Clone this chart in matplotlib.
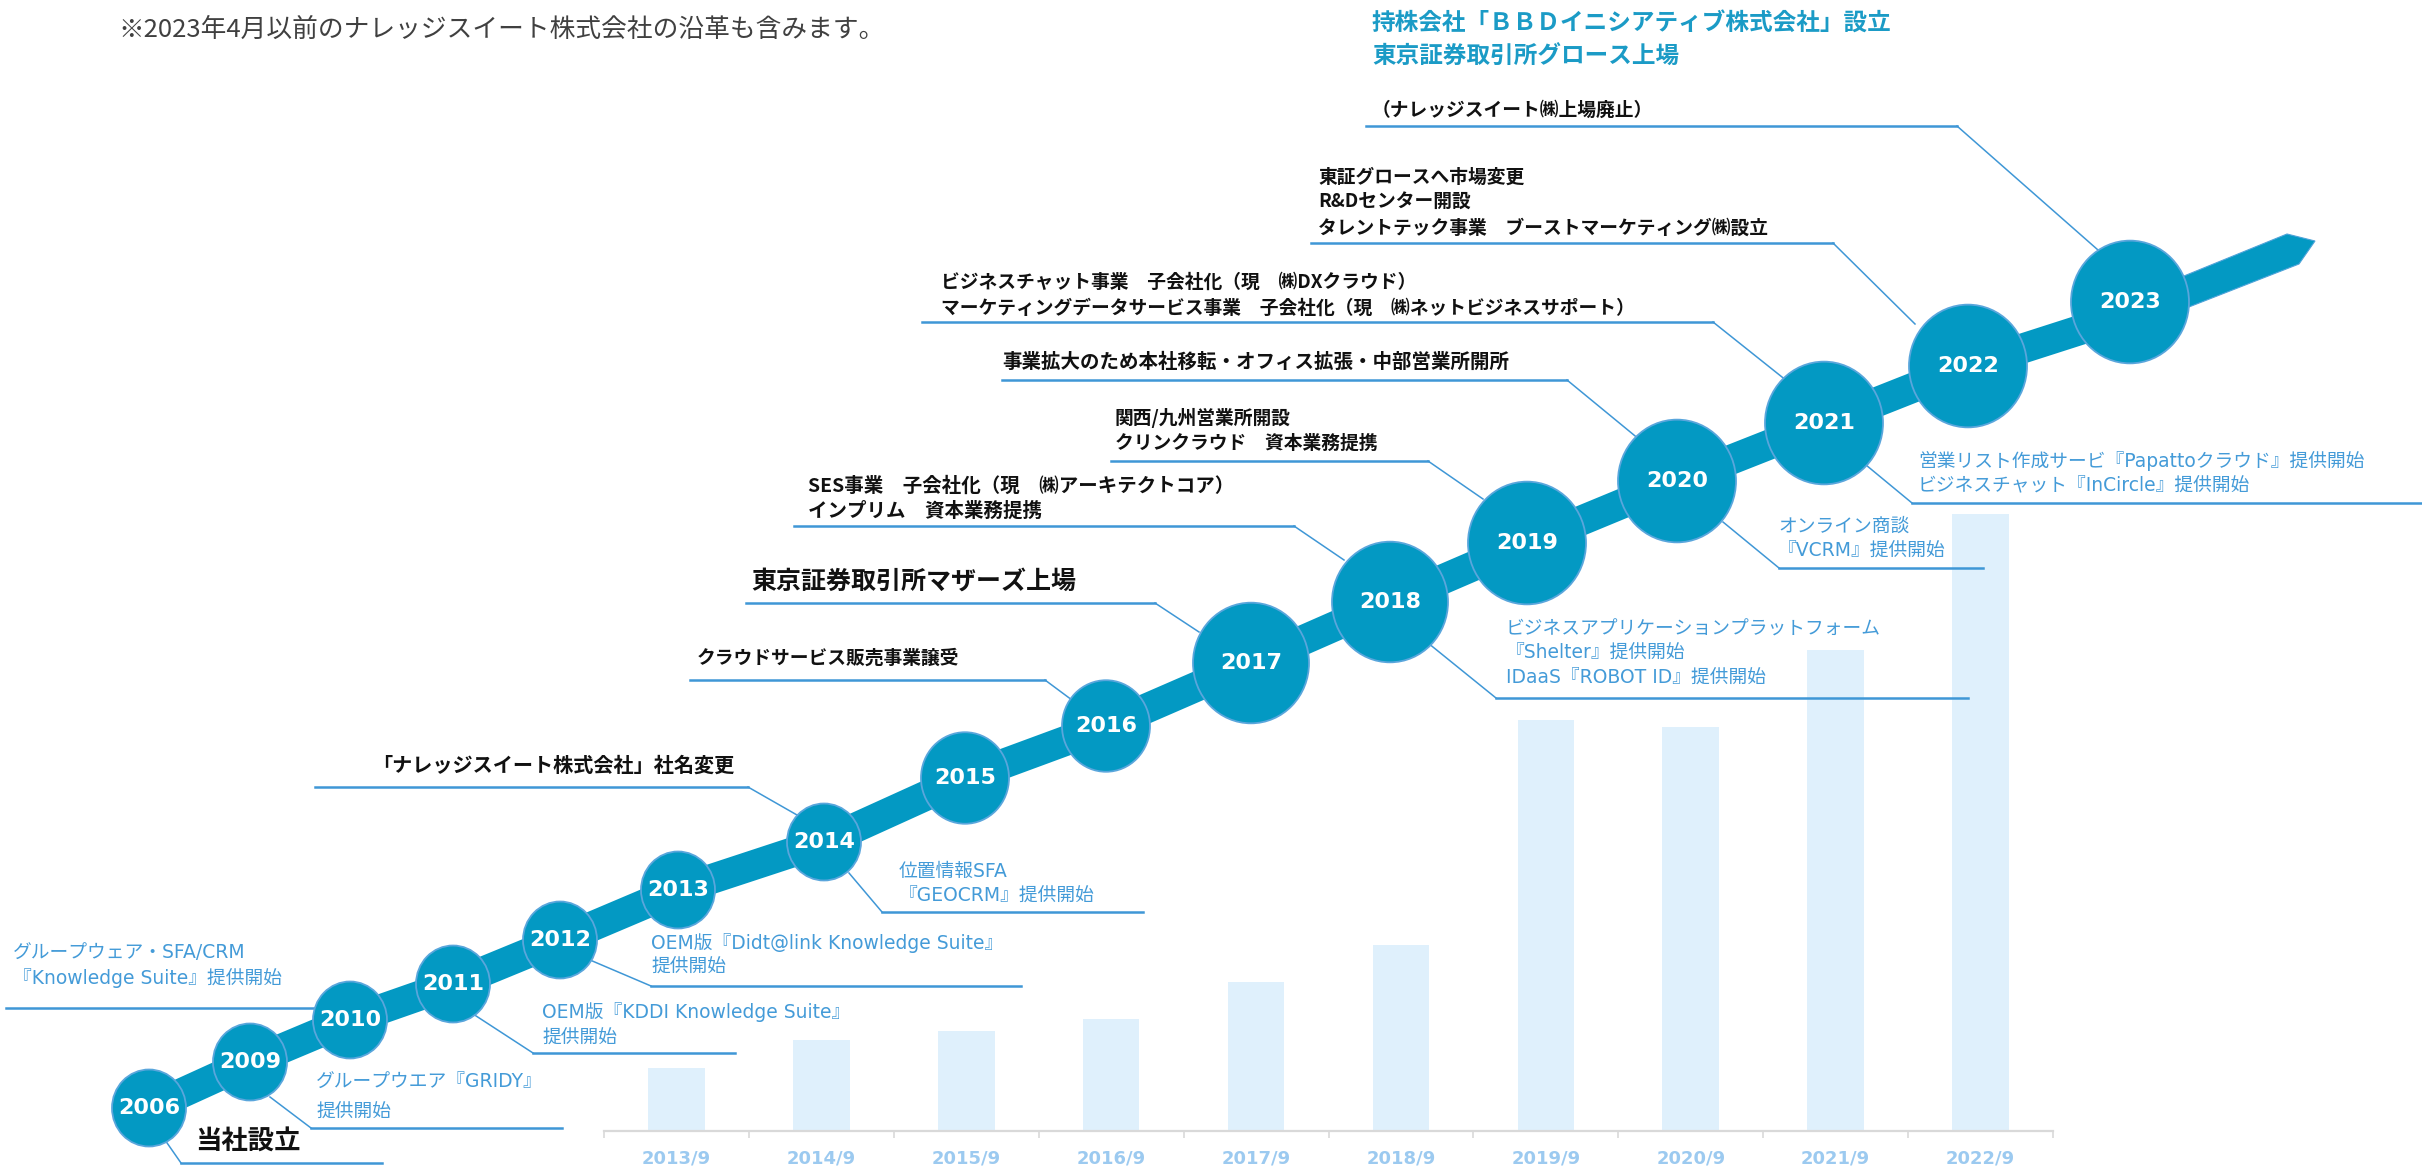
import matplotlib
matplotlib.use('Agg')
import matplotlib.pyplot as plt
from matplotlib.patches import Ellipse, Polygon

W, H = 2422, 1170
JP = ['Noto Sans CJK JP', 'DejaVu Sans']
JP_LATIN = ['DejaVu Sans', 'Noto Sans CJK JP']

TEAL = '#0399c3'
BLUE_TXT = '#449bd8'
BLUE_LINE = '#3f97d6'
BAR_C = '#dff0fc'

# ---- data ----
years = [2006, 2009, 2010, 2011, 2012, 2013, 2014, 2015, 2016,
         2017, 2018, 2019, 2020, 2021, 2022, 2023]

bar_labels = ['2013/9', '2014/9', '2015/9', '2016/9', '2017/9',
              '2018/9', '2019/9', '2020/9', '2021/9', '2022/9']
bar_values = [63, 91, 100, 112, 149, 186, 411, 404, 481, 617]

note_text = '※2023年4月以前のナレッジスイート株式会社の沿革も含みます。'
head_lines = ['持株会社「ＢＢＤイニシアティブ株式会社」設立', '東京証券取引所グロース上場']

# black, above the band
upper_events = [
    (2023, ['（ナレッジスイート㈱上場廃止）']),
    (2022, ['東証グロースへ市場変更', 'R&Dセンター開設', 'タレントテック事業　ブーストマーケティング㈱設立']),
    (2021, ['ビジネスチャット事業　子会社化（現　㈱DXクラウド）',
            'マーケティングデータサービス事業　子会社化（現　㈱ネットビジネスサポート）']),
    (2020, ['事業拡大のため本社移転・オフィス拡張・中部営業所開所']),
    (2019, ['関西/九州営業所開設', 'クリンクラウド　資本業務提携']),
    (2018, ['SES事業　子会社化（現　㈱アーキテクトコア）', 'インプリム　資本業務提携']),
    (2017, ['東京証券取引所マザーズ上場']),
    (2016, ['クラウドサービス販売事業譲受']),
    (2014, ['「ナレッジスイート株式会社」社名変更']),
    (2006, ['当社設立']),
]

# blue, below the band
lower_events = [
    (2010, ['グループウェア・SFA/CRM', '『Knowledge Suite』提供開始']),
    (2009, ['グループウエア『GRIDY』', '提供開始']),
    (2011, ['OEM版『KDDI Knowledge Suite』', '提供開始']),
    (2012, ['OEM版『Didt@link Knowledge Suite』', '提供開始']),
    (2014, ['位置情報SFA', '『GEOCRM』提供開始']),
    (2018, ['ビジネスアプリケーションプラットフォーム', '『Shelter』提供開始', 'IDaaS『ROBOT ID』提供開始']),
    (2020, ['オンライン商談', '『VCRM』提供開始']),
    (2021, ['営業リスト作成サービ『Papattoクラウド』提供開始', 'ビジネスチャット『InCircle』提供開始']),
]

# ---- layout (pixel positions) ----
node_pos = {2006: (149, 1108, 37), 2009: (250, 1062, 37), 2010: (350, 1020, 37),
            2011: (453, 984, 37), 2012: (560, 940, 37), 2013: (678, 890, 37),
            2014: (824, 842, 37), 2015: (965, 778, 44), 2016: (1106, 726, 44),
            2017: (1251, 663, 58), 2018: (1390, 602, 58), 2019: (1527, 543, 59),
            2020: (1677, 481, 59), 2021: (1824, 423, 59), 2022: (1968, 366, 59),
            2023: (2130, 302, 59)}

# text x, first line y, line step, fontsize, underline (x0, x1, y), leader end point
upper_layout = [
    (1372, 110, 25, 13.5, (1366, 1957, 126), (2098, 250)),
    (1318, 177, 25.5, 13.5, (1311, 1833, 243), (1915, 324)),
    (941, 282, 26, 13.5, (922, 1713, 322), (1787, 381)),
    (1002, 362, 25, 14, (1002, 1567, 380), (1640, 440)),
    (1115, 418, 25, 13.5, (1111, 1428, 461), (1483, 499)),
    (808, 486, 25, 14, (794, 1294, 526), (1344, 560)),
    (751, 582, 25, 18, (746, 1155, 603), (1199, 632)),
    (697, 658, 25, 13.5, (690, 1045, 680), (1076, 703)),
    (372, 765, 25, 14.5, (315, 748, 787), (797, 815)),
    (195, 1142, 25, 19, (181, 382, 1163), (165, 1140)),
]
lower_layout = [
    (13, 953, 25, 13.5, (6, 330, 1008), None),
    (316, 1082, 30, 13.5, (311, 562, 1128), (270, 1097)),
    (542, 1012, 26, 13.5, (533, 735, 1053), (470, 1012)),
    (651, 943, 24, 13.5, (651, 1021, 986), (590, 960)),
    (899, 871, 25, 13.5, (882, 1143, 912), (849, 873)),
    (1506, 629, 24.5, 13.5, (1496, 1968, 698), (1428, 643)),
    (1778, 526, 25, 13.5, (1779, 1983, 568), (1723, 522)),
    (1918, 461, 25, 13.5, (1912, 2422, 503), (1866, 465)),
]

fig = plt.figure(figsize=(W / 100, H / 100), dpi=100)

# ---- bar chart ----
axb = fig.add_axes([604 / W, (H - 1131) / H, 1449 / W, 650 / H])
axb.patch.set_alpha(0)
xs = list(range(len(bar_labels)))
axb.bar(xs, bar_values, width=0.39, color=BAR_C)
axb.set_xlim(-0.5, len(bar_labels) - 0.5)
axb.set_ylim(0, 650)
for s in ['top', 'right', 'left']:
    axb.spines[s].set_visible(False)
axb.spines['bottom'].set_color('#d9d9d9')
axb.spines['bottom'].set_linewidth(1.6)
axb.set_yticks([])
axb.set_xticks(xs)
axb.set_xticklabels(bar_labels, color='#9ccaf0', fontsize=13, fontweight='bold',
                    family='DejaVu Sans')
axb.tick_params(axis='x', which='major', length=0, pad=13)
axb.set_xticks([x - 0.5 for x in range(len(bar_labels) + 1)], minor=True)
axb.tick_params(axis='x', which='minor', length=5, width=1.2, color='#d9d9d9')

# ---- timeline overlay ----
ax = fig.add_axes([0, 0, 1, 1])
ax.set_xlim(0, W)
ax.set_ylim(H, 0)
ax.axis('off')
ax.patch.set_alpha(0)

bx = [node_pos[y][0] for y in years]
by = [node_pos[y][1] for y in years]
by[-1] = 314
ax.plot(bx, by, color=TEAL, lw=21.6, solid_capstyle='butt', solid_joinstyle='round', zorder=2)
ax.add_patch(Polygon([(2130, 298), (2287, 234), (2315, 241), (2299, 264), (2130, 330)],
                     closed=True, fc=TEAL, ec='#4ea3d9', lw=0.8, zorder=2))

for y in years:
    cx, cy, r = node_pos[y]
    ax.add_patch(Ellipse((cx, cy), 2 * r, 2 * r * 1.04, fc=TEAL, ec='#5aa6dc', lw=1.3, zorder=4))
    ax.text(cx, cy, str(y), color='white', fontsize=16, fontweight='bold',
            family='DejaVu Sans', ha='center', va='center', zorder=5)

ax.text(118, 30, note_text, fontsize=18.5, color='#404040', family=JP, va='center')
for i, s in enumerate(head_lines):
    ax.text(1372, 23 + i * 34, s, fontsize=17, color='#1b9bc6', fontweight='bold',
            family=JP, va='center')

for (yr, lines), (tx, ty, step, fs, ul, lead) in zip(upper_events, upper_layout):
    for i, s in enumerate(lines):
        ax.text(tx, ty + i * step, s, fontsize=fs, color='#111111', fontweight='bold',
                family=JP, va='center', zorder=6)
    ax.plot([ul[0], ul[1]], [ul[2], ul[2]], color=BLUE_LINE, lw=1.8, zorder=3)
    if yr == 2006:
        ax.plot([lead[0], ul[0]], [lead[1], ul[2]], color=BLUE_LINE, lw=1.1, zorder=3)
    else:
        ax.plot([ul[1], lead[0]], [ul[2], lead[1]], color=BLUE_LINE, lw=1.1, zorder=3)

for (yr, lines), (tx, ty, step, fs, ul, lead) in zip(lower_events, lower_layout):
    for i, s in enumerate(lines):
        ax.text(tx, ty + i * step, s, fontsize=fs, color=BLUE_TXT,
                family=JP_LATIN, va='center', zorder=6)
    ax.plot([ul[0], ul[1]], [ul[2], ul[2]], color=BLUE_LINE, lw=1.8, zorder=3)
    if lead is not None:
        ax.plot([lead[0], ul[0]], [lead[1], ul[2]], color=BLUE_LINE, lw=1.1, zorder=3)

fig.savefig('out.png', dpi=100)
